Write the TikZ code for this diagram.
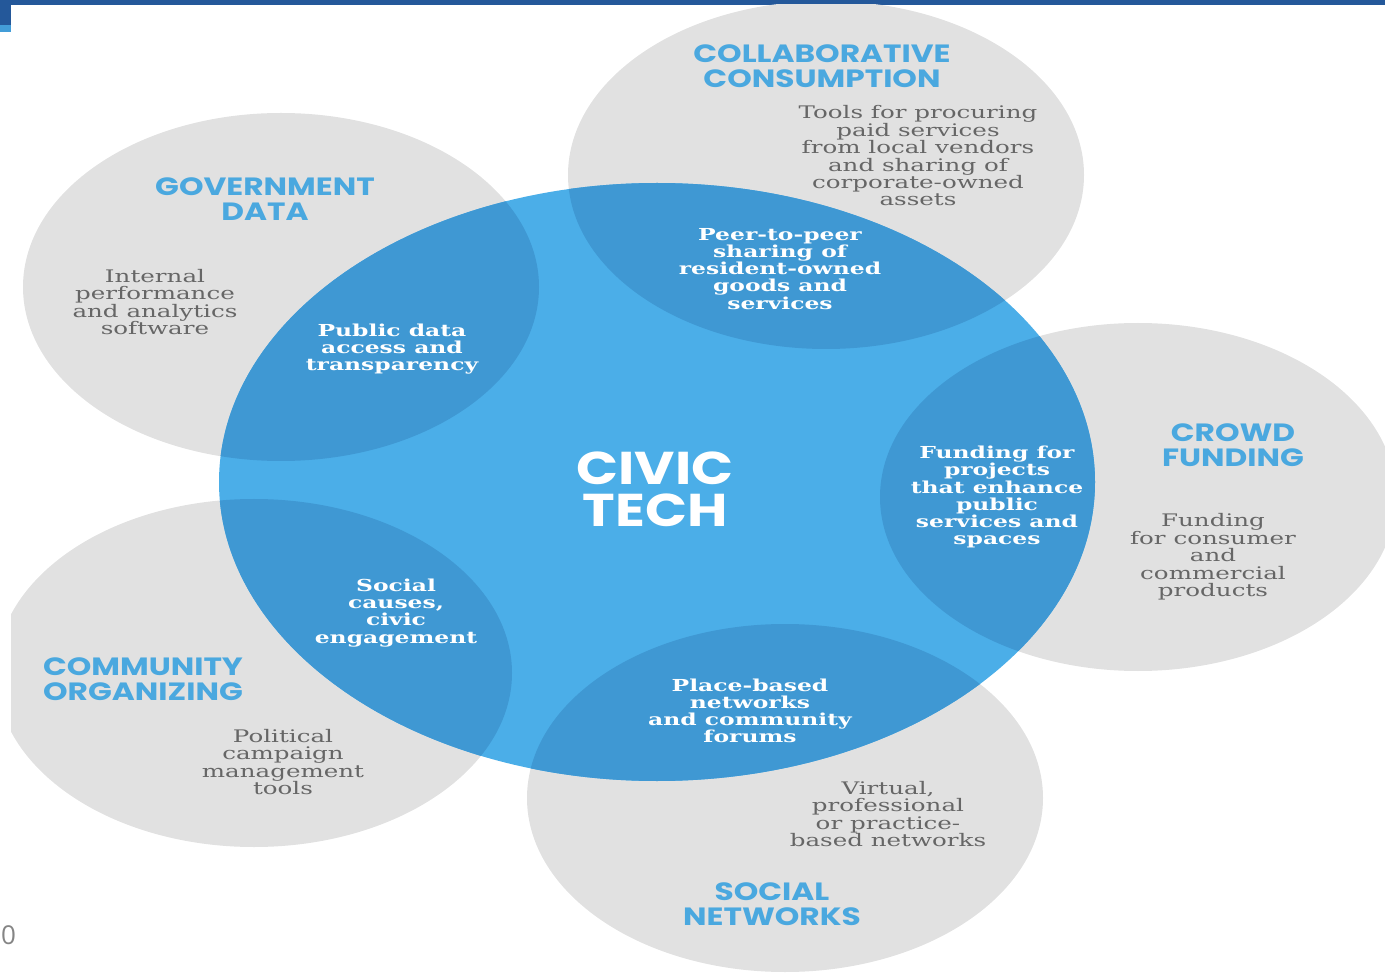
\documentclass[tikz,border=0pt]{standalone}
\usepackage{fontspec}
\usepackage{tikz}
\newfontfamily\headfont{Poppins}[FakeStretch=1.25]
\newfontfamily\titlefont{Poppins}[FakeStretch=1.2]
\newfontfamily\slabfont{DejaVu Serif}[FakeStretch=1.42]
\newfontfamily\pagefont{Open Sans}
\definecolor{civicblue}{HTML}{4BAEE8}
\definecolor{overlapblue}{HTML}{3F98D3}
\definecolor{bubblegray}{HTML}{E1E1E1}
\definecolor{headblue}{HTML}{4AA8DF}
\definecolor{bodygray}{HTML}{666666}
\definecolor{barblue}{HTML}{24589A}
\tikzset{
  head/.style={align=center, text=headblue, font=\headfont\bfseries\fontsize{25}{25}\selectfont},
  graytxt/.style={align=center, text=bodygray, font=\slabfont\fontsize{17.3}{17.4}\selectfont},
  whitetxt/.style={align=center, text=white, font=\slabfont\bfseries\fontsize{16.5}{17.1}\selectfont},
  bubble/.style={x radius=258, y radius=174}
}
\begin{document}
\begin{tikzpicture}[x=1pt, y=-1pt]
        \useasboundingbox (0,0) rectangle (1385,973);
        %Frame
        \fill [barblue] (0,0) rectangle (1385,5);
        \fill [barblue] (0,0) rectangle (11,25);
        \fill [civicblue!80!barblue] (0,25) rectangle (11,32);
        \begin{scope}
        \clip (11,5) rectangle (1385,973);
        %Outer bubbles
        \fill [bubblegray] (281,287) ellipse [bubble];   % government data
        \fill [bubblegray] (826,175) ellipse [bubble];   % collaborative consumption
        \fill [bubblegray] (1138,497) ellipse [bubble];  % crowd funding
        \fill [bubblegray] (254,673) ellipse [bubble];   % community organizing
        \fill [bubblegray] (785,798) ellipse [bubble];   % social networks
        %Civic tech
        \fill [civicblue] (657,482) ellipse [x radius=438, y radius=299];
        %Overlaps
        \begin{scope}
          \clip (657,482) ellipse [x radius=438, y radius=299];
          \fill [overlapblue] (281,287) ellipse [bubble];
          \fill [overlapblue] (826,175) ellipse [bubble];
          \fill [overlapblue] (1138,497) ellipse [bubble];
          \fill [overlapblue] (254,673) ellipse [bubble];
          \fill [overlapblue] (785,798) ellipse [bubble];
        \end{scope}
        \end{scope}
        %Centre
        \node (civic) [align=center, text=white, font=\titlefont\bfseries\fontsize{46}{42}\selectfont] at (655,489) {CIVIC\\TECH};
        %Government data
        \node (govhead) [head] at (265,199) {GOVERNMENT\\DATA};
        \node (govtxt) [graytxt] at (155,302) {Internal\\performance\\and analytics\\software};
        \node (govcore) [whitetxt] at (392,349) {Public data\\access and\\transparency};
        %Collaborative consumption
        \node (colhead) [head] at (822,66) {COLLABORATIVE\\CONSUMPTION};
        \node (coltxt) [graytxt] at (918,156) {Tools for procuring\\paid services\\from local vendors\\and sharing of\\corporate-owned\\assets};
        \node (colcore) [whitetxt] at (780,269) {Peer-to-peer\\sharing of\\resident-owned\\goods and\\services};
        %Crowd funding
        \node (crowdhead) [head] at (1233,445) {CROWD\\FUNDING};
        \node (crowdtxt) [graytxt] at (1213,557) {Funding\\for consumer\\and\\commercial\\products};
        \node (crowdcore) [whitetxt] at (997,497) {Funding for\\projects\\that enhance\\public\\services and\\spaces};
        %Community organizing
        \node (comhead) [head] at (143,679) {COMMUNITY\\ORGANIZING};
        \node (comtxt) [graytxt] at (283,762) {Political\\campaign\\management\\tools};
        \node (comcore) [whitetxt] at (396,613) {Social\\causes,\\civic\\engagement};
        %Social networks
        \node (sochead) [head] at (772,904) {SOCIAL\\NETWORKS};
        \node (soctxt) [graytxt] at (888,814) {Virtual,\\professional\\or practice-\\based networks};
        \node (soccore) [whitetxt] at (750,711) {Place-based\\networks\\and community\\forums};
        %Page number
        \node (pagenum) [text=bodygray!80, font=\pagefont\fontsize{26}{26}\selectfont, anchor=west, inner sep=1pt] at (0,935) {0};
\end{tikzpicture}
\end{document}
